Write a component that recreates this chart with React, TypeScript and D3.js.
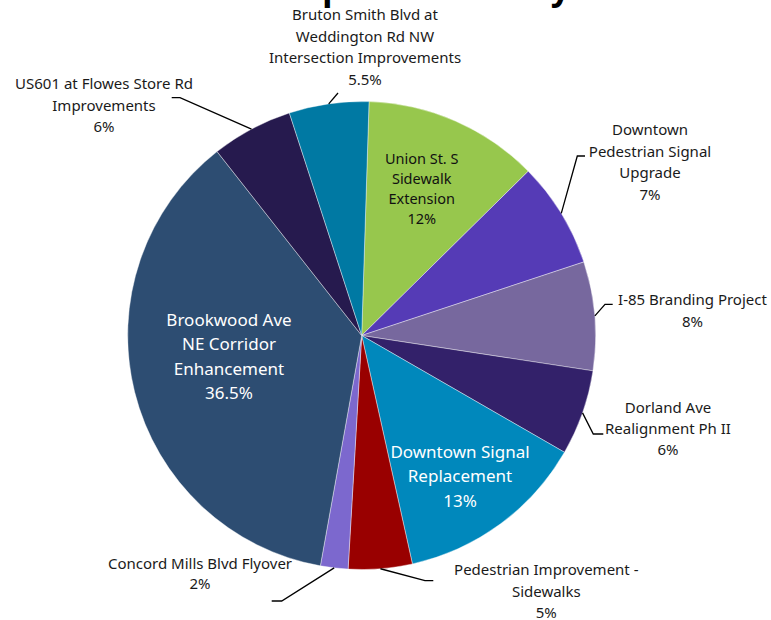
import React from "react";
import * as d3 from "d3";

// ---- data ----
const projects = [
  "Union St. S Sidewalk Extension",
  "Downtown Pedestrian Signal Upgrade",
  "I-85 Branding Project",
  "Dorland Ave Realignment Ph II",
  "Downtown Signal Replacement",
  "Pedestrian Improvement - Sidewalks",
  "Concord Mills Blvd Flyover",
  "Brookwood Ave NE Corridor Enhancement",
  "US601 at Flowes Store Rd Improvements",
  "Bruton Smith Blvd at Weddington Rd NW Intersection Improvements",
];
const shares = [12.1, 7.3, 7.5, 5.9, 13.2, 4.4, 1.9, 36.55, 5.6, 5.5];
const pctLabels = ["12%", "7%", "8%", "6%", "13%", "5%", "2%", "36.5%", "6%", "5.5%"];
const labelLines = [
  ["Union St. S", "Sidewalk", "Extension"],
  ["Downtown", "Pedestrian Signal", "Upgrade"],
  ["I-85 Branding Project"],
  ["Dorland Ave", "Realignment Ph II"],
  ["Downtown Signal", "Replacement"],
  ["Pedestrian Improvement -", "Sidewalks"],
  ["Concord Mills Blvd Flyover"],
  ["Brookwood Ave", "NE Corridor", "Enhancement"],
  ["US601 at Flowes Store Rd", "Improvements"],
  ["Bruton Smith Blvd at", "Weddington Rd NW", "Intersection Improvements"],
];
const colors = [
  "#97C74D", "#553BB6", "#77689E", "#33216A", "#0088BC",
  "#990000", "#7C68CE", "#2D4D72", "#261A4E", "#0079A3",
];

// ---- layout (positions / styles) ----
const W = 771, H = 620;
const CX = 361.7, CY = 335.5, R = 234;
const START = (1.8 * Math.PI) / 180;

type Lay = {
  x: number; y: number; gap: number; size: number; fill: string;
  elbow?: [number, number]; end?: [number, number];
};
const layout: Lay[] = [
  { x: 421.7, y: 159.3, gap: 20, size: 14.5, fill: "#111" },
  { x: 650, y: 130, gap: 21.5, size: 15, fill: "#1a1a1a", elbow: [577.3, 156], end: [585, 156] },
  { x: 692.5, y: 300, gap: 21.7, size: 15, fill: "#1a1a1a", elbow: [605, 304.3], end: [612.7, 304.3] },
  { x: 668, y: 407.7, gap: 21.2, size: 15, fill: "#1a1a1a", elbow: [593.3, 434], end: [603.3, 434] },
  { x: 460, y: 452.3, gap: 24.2, size: 17, fill: "#ffffff" },
  { x: 546.3, y: 570, gap: 21.4, size: 15, fill: "#1a1a1a", elbow: [425, 580.7], end: [433.3, 580.7] },
  { x: 200, y: 563.3, gap: 20, size: 15, fill: "#1a1a1a", elbow: [281.7, 601], end: [271.7, 601] },
  { x: 229, y: 320, gap: 24.3, size: 17, fill: "#ffffff" },
  { x: 104, y: 84, gap: 21.4, size: 15, fill: "#1a1a1a", elbow: [180, 97.7], end: [171.7, 97.7] },
  { x: 365, y: 15, gap: 21.6, size: 15, fill: "#1a1a1a", elbow: [338, 93], end: [338, 93] },
];

const FONT = "'Noto Sans', 'Open Sans', sans-serif";

export default function App() {
  const pie = d3
    .pie<number>()
    .sort(null)
    .value((d) => d)
    .startAngle(START)
    .endAngle(START + 2 * Math.PI);
  const arcs = pie(shares);
  const arc = d3.arc<d3.PieArcDatum<number>>().innerRadius(0).outerRadius(R);
  const edgeArc = d3.arc<d3.PieArcDatum<number>>().innerRadius(R).outerRadius(R);

  return (
    <svg
      width={W}
      height={H}
      style={{ position: "absolute", left: 0, top: 0, background: "#fff" }}
    >
      <text
        x={280}
        y={0}
        fontFamily={FONT}
        fontWeight="bold"
        fontSize={34}
        fill="#000"
      >
        Capital Summary
      </text>
      <g transform={`translate(${CX},${CY})`}>
        {arcs.map((a, i) => (
          <path key={projects[i]} d={arc(a) || ""} fill={colors[i]} stroke="#fff" strokeWidth={0.4} />
        ))}
      </g>
      {arcs.map((a, i) => {
        const L = layout[i];
        if (!L.elbow || !L.end) return null;
        const mid = (a.startAngle + a.endAngle) / 2;
        const px = CX + R * Math.sin(mid);
        const py = CY - R * Math.cos(mid);
        const line = d3.line()([[px, py], L.elbow, L.end]);
        return (
          <path key={"l" + i} d={line || ""} fill="none" stroke="#000" strokeWidth={1.3} />
        );
      })}
      {arcs.map((a, i) => {
        const L = layout[i];
        const lines = [...labelLines[i], pctLabels[i]];
        return (
          <text
            key={"t" + i}
            fontFamily={FONT}
            fontSize={L.size}
            fill={L.fill}
            textAnchor="middle"
          >
            {lines.map((s, j) => (
              <tspan key={j} x={L.x} y={L.y + j * L.gap} dy="0.35em">
                {s}
              </tspan>
            ))}
          </text>
        );
      })}
    </svg>
  );
}
